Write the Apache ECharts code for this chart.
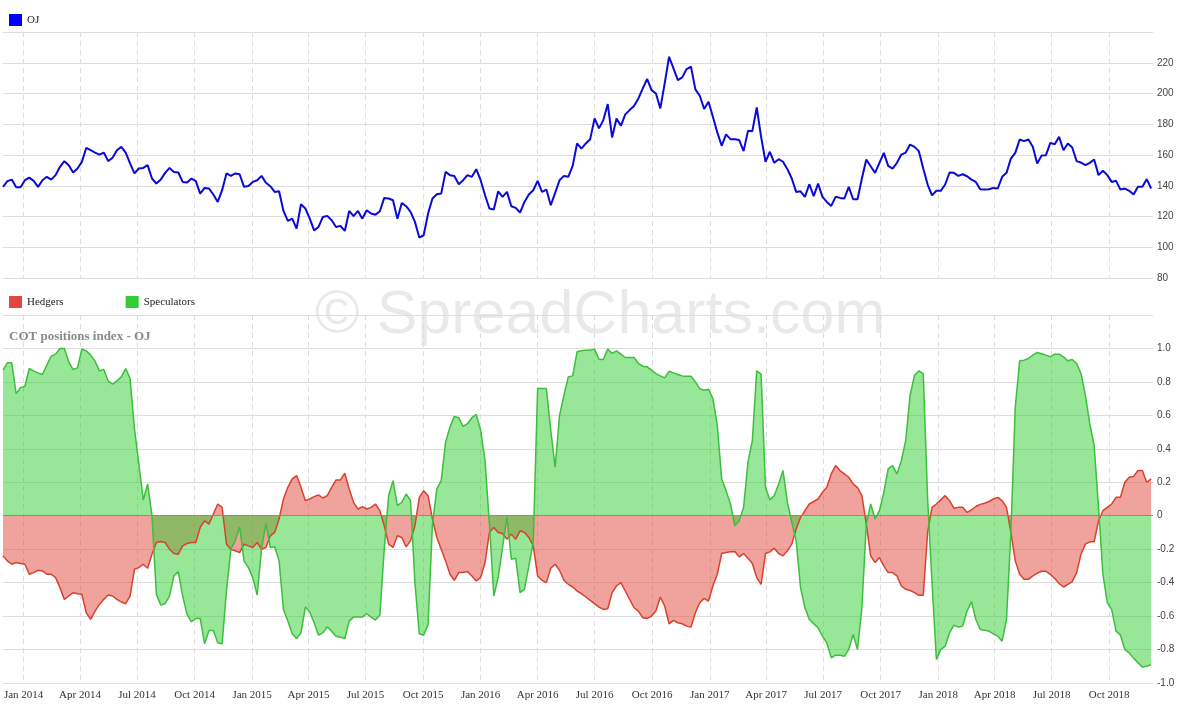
<!DOCTYPE html>
<html>
<head>
<meta charset="utf-8">
<title>OJ - COT positions index</title>
<script src="https://cdn.jsdelivr.net/npm/echarts@6/dist/echarts.min.js"></script>
<style>
  html, body { margin: 0; padding: 0; background: #fff; }
  #chart { width: 1200px; height: 717px; }
</style>
</head>
<body>
<div id="chart"></div>
<script>
// weekly observations, first one on 2013-11-29
var startDate = Date.UTC(2013, 10, 29);
var endDate = Date.UTC(2018, 11, 10);
var DAY = 86400000;

// OJ price
var oj = [
  139.3, 143, 144, 139, 139, 143.6, 145.3, 143.2, 139.3, 143.6,
  145.8, 144, 146.9, 152.3, 156, 153.4, 148.6, 151.2, 155.5, 164.7,
  163.1, 161.6, 160.3, 161.6, 156, 158.2, 163.1, 165.3, 161.6, 154.5,
  148, 151.2, 151.6, 153.4, 144.7, 141.4, 144, 148.4, 151.6, 149,
  148.6, 142.5, 142.1, 144.7, 143, 134.9, 138.6, 138.2, 134.3, 129.5,
  137.1, 148, 146.4, 148, 147.5, 139.3, 139.9, 142.5, 143.6, 146.4,
  141.9, 139.7, 136, 136.4, 123.6, 117.1, 118.6, 112.1, 128, 125.2,
  118.6, 111, 113.2, 119.7, 120.4, 117.6, 113.2, 113.9, 110.6, 123.6,
  120.2, 123.6, 118.6, 124.1, 121.9, 121.2, 123.4, 132.1, 131.7, 130.6,
  118.6, 128.8, 126.7, 123, 116.5, 106.3, 107.8, 121.9, 131.7, 134.5,
  134.9, 149, 146.9, 146.4, 141, 143.6, 146.9, 145.8, 150.8, 143.6,
  133.8, 125.2, 124.5, 136.4, 132.8, 136, 126.7, 125.6, 122.6, 129.5,
  134.3, 137.1, 143.2, 136, 137.5, 127.3, 135.4, 143.6, 146.4, 145.8,
  152.9, 167.5, 164.2, 167.5, 170.3, 183.8, 177.3, 182.7, 193.1, 171.4,
  183.8, 179, 186.4, 189.2, 191.8, 196.8, 203.3, 209.4, 202.2, 200,
  190.3, 206.6, 223.9, 216.3, 208.7, 210.5, 215.9, 217.4, 202.7, 198.5,
  189.9, 194.6, 184.9, 174.7, 166, 173.4, 170.3, 170.3, 169.7, 162.5,
  175.7, 175.5, 190.9, 171.8, 155.6, 162.1, 154.9, 157.3, 155.6, 150.8,
  144.7, 136, 136.4, 132.8, 141, 133.2, 141.4, 132.8, 129.5, 126.9,
  132.8, 132.1, 131.7, 139.3, 131.2, 131.2, 144.7, 157.1, 152.7, 148.4,
  154.9, 161.4, 152.9, 151.2, 154.9, 160.3, 161.6, 166.8, 165.3, 162.5,
  151.2, 140.8, 133.8, 136.7, 136.7, 140.8, 148.6, 148.4, 146.4, 147.5,
  146.2, 144, 142.5, 137.7, 137.5, 137.7, 138.6, 138.2, 145.8, 148.4,
  157.7, 161.4, 170.1, 169, 170.1, 165.3, 154.5, 159.6, 159.9, 167.9,
  167, 171.8, 163.1, 167.5, 164.9, 156, 155.1, 153.4, 154.9, 157.1,
  146.9, 149.7, 146.9, 142.5, 143.2, 137.5, 138.2, 136.7, 134.3, 139.3,
  139.3, 144.3, 138.2
];

// COT positions index
var hedgers = [
  -0.24, -0.27, -0.29, -0.28, -0.285, -0.29, -0.35, -0.34, -0.326, -0.33,
  -0.35, -0.35, -0.37, -0.43, -0.5, -0.48, -0.46, -0.466, -0.47, -0.58,
  -0.62, -0.57, -0.53, -0.5, -0.474, -0.48, -0.5, -0.516, -0.526, -0.48,
  -0.32, -0.31, -0.29, -0.314, -0.23, -0.16, -0.154, -0.16, -0.2, -0.226,
  -0.23, -0.18, -0.166, -0.16, -0.16, -0.07, -0.03, -0.05, 0.01, 0.07,
  0.05, -0.17, -0.2, -0.21, -0.22, -0.17, -0.18, -0.19, -0.16, -0.2,
  -0.19, -0.12, -0.1, -0.02, 0.1, 0.17, 0.22, 0.24, 0.17, 0.09,
  0.1, 0.114, 0.124, 0.106, 0.12, 0.17, 0.214, 0.214, 0.254, 0.16,
  0.08, 0.04, 0.054, 0.04, 0.05, 0.07, 0.03, -0.06, -0.17, -0.19,
  -0.12, -0.13, -0.186, -0.15, -0.06, 0.11, 0.15, 0.12, -0.02, -0.13,
  -0.2, -0.27, -0.35, -0.386, -0.34, -0.34, -0.334, -0.36, -0.39, -0.37,
  -0.28, -0.1, -0.07, -0.1, -0.106, -0.14, -0.11, -0.14, -0.09, -0.1,
  -0.13, -0.18, -0.36, -0.386, -0.4, -0.314, -0.29, -0.326, -0.386, -0.41,
  -0.426, -0.45, -0.466, -0.486, -0.506, -0.526, -0.546, -0.56, -0.556, -0.46,
  -0.42, -0.4, -0.45, -0.5, -0.55, -0.57, -0.61, -0.614, -0.6, -0.57,
  -0.486, -0.54, -0.646, -0.626, -0.64, -0.646, -0.66, -0.666, -0.58, -0.52,
  -0.494, -0.51, -0.42, -0.35, -0.226, -0.22, -0.216, -0.214, -0.246, -0.226,
  -0.254, -0.286, -0.37, -0.41, -0.226, -0.216, -0.194, -0.226, -0.24, -0.21,
  -0.17, -0.08, -0.01, 0.03, 0.07, 0.085, 0.1, 0.14, 0.17, 0.25,
  0.3, 0.27, 0.25, 0.23, 0.19, 0.168, 0.12, -0.05, -0.24, -0.28,
  -0.25, -0.3, -0.34, -0.34, -0.36, -0.42, -0.44, -0.447, -0.46, -0.476,
  -0.476, -0.1, 0.05, 0.07, 0.095, 0.12, 0.09, 0.045, 0.05, 0.05,
  0.02, 0.035, 0.055, 0.068, 0.075, 0.085, 0.1, 0.11, 0.09, 0.05,
  -0.1, -0.27, -0.35, -0.38, -0.38, -0.36, -0.345, -0.332, -0.332, -0.35,
  -0.375, -0.405, -0.426, -0.41, -0.395, -0.34, -0.23, -0.17, -0.156, -0.156,
  -0.03, 0.03, 0.05, 0.07, 0.11, 0.11, 0.2, 0.23, 0.235, 0.27,
  0.27, 0.2, 0.22
];

var speculators = [
  0.87, 0.914, 0.914, 0.73, 0.766, 0.774, 0.88, 0.866, 0.854, 0.844,
  0.9, 0.954, 0.966, 1.0, 1.0, 0.92, 0.874, 0.884, 0.996, 0.986,
  0.96, 0.924, 0.866, 0.874, 0.806, 0.786, 0.806, 0.83, 0.88, 0.82,
  0.52, 0.31, 0.094, 0.19, 0.0, -0.47, -0.534, -0.526, -0.48, -0.36,
  -0.334, -0.48, -0.59, -0.634, -0.614, -0.614, -0.766, -0.686, -0.686, -0.76,
  -0.766, -0.45, -0.2, -0.15, -0.066, -0.27, -0.31, -0.37, -0.474, -0.2,
  -0.046, -0.19, -0.186, -0.27, -0.56, -0.63, -0.706, -0.734, -0.7, -0.546,
  -0.575, -0.64, -0.714, -0.7, -0.664, -0.69, -0.72, -0.726, -0.734, -0.63,
  -0.606, -0.606, -0.606, -0.586, -0.606, -0.624, -0.594, -0.2, 0.12, 0.21,
  0.06, 0.08, 0.13, 0.09, -0.4, -0.706, -0.714, -0.65, -0.05, 0.16,
  0.21, 0.44, 0.53, 0.594, 0.586, 0.534, 0.55, 0.586, 0.606, 0.51,
  0.33, -0.05, -0.48, -0.37, -0.19, -0.006, -0.26, -0.254, -0.46, -0.44,
  -0.3, -0.16, 0.76, 0.76, 0.76, 0.51, 0.29, 0.6, 0.72, 0.83,
  0.836, 0.98, 0.986, 0.99, 0.99, 0.996, 0.936, 0.934, 0.996, 0.97,
  0.986, 0.966, 0.946, 0.946, 0.946, 0.91, 0.894, 0.89, 0.87, 0.85,
  0.836, 0.824, 0.864, 0.854, 0.844, 0.836, 0.834, 0.834, 0.8, 0.76,
  0.75, 0.756, 0.7, 0.54, 0.22, 0.15, 0.07, -0.06, -0.03, 0.05,
  0.32, 0.45, 0.866, 0.846, 0.17, 0.094, 0.12, 0.19, 0.27, 0.08,
  -0.04, -0.15, -0.43, -0.55, -0.62, -0.645, -0.67, -0.72, -0.76, -0.85,
  -0.834, -0.834, -0.84, -0.8, -0.71, -0.8, -0.55, -0.05, 0.07, -0.02,
  0.03, 0.14, 0.28, 0.3, 0.25, 0.33, 0.45, 0.72, 0.84, 0.866,
  0.85, 0.1, -0.4, -0.86, -0.8, -0.78, -0.7, -0.654, -0.665, -0.66,
  -0.57, -0.514, -0.62, -0.68, -0.684, -0.69, -0.706, -0.72, -0.75, -0.62,
  -0.1, 0.65, 0.926, 0.93, 0.94, 0.96, 0.976, 0.968, 0.96, 0.95,
  0.966, 0.966, 0.95, 0.926, 0.934, 0.91, 0.85, 0.72, 0.55, 0.42,
  0.05, -0.35, -0.52, -0.56, -0.69, -0.714, -0.8, -0.82, -0.85, -0.88,
  -0.904, -0.9, -0.89
];

var monthNames = ['Jan', 'Feb', 'Mar', 'Apr', 'May', 'Jun', 'Jul', 'Aug', 'Sep', 'Oct', 'Nov', 'Dec'];

var dates = [];
for (var i = 0; i < oj.length; i++) {
  dates.push(startDate + i * 7 * DAY);
}
function pairs(values) {
  return values.map(function (v, i) { return [dates[i], v]; });
}

var chart = echarts.init(document.getElementById('chart'));

var xCommon = {
  type: 'time',
  min: startDate,
  max: endDate,
  minInterval: 91 * DAY,
  maxInterval: 91 * DAY,
  axisLine: { show: false },
  axisTick: { show: false },
  splitLine: {
    show: true,
    showMinLine: false,
    showMaxLine: false,
    lineStyle: { color: '#dddddd', type: [5, 4], width: 1 }
  }
};

var option = {
  animation: false,
  backgroundColor: '#ffffff',
  graphic: [{
    type: 'text',
    z: -10,
    left: 'center',
    top: 286,
    silent: true,
    style: {
      text: '\u00a9 SpreadCharts.com',
      fontFamily: 'Liberation Sans, Arial, sans-serif',
      fontSize: 61,
      fill: 'rgba(0,0,0,0.085)'
    }
  }],
  title: {
    text: 'COT positions index - OJ',
    left: 4,
    top: 325,
    textStyle: {
      fontFamily: 'Liberation Serif, Times New Roman, serif',
      fontSize: 13,
      fontWeight: 'bold',
      color: '#8a8a8a'
    }
  },
  legend: [{
    left: 4,
    top: 9,
    icon: 'rect',
    itemWidth: 13,
    itemHeight: 12,
    itemGap: 4,
    itemTextGap: 4,
    textStyle: { fontFamily: 'Liberation Serif, serif', fontSize: 11, color: '#222' },
    data: [{ name: 'OJ', itemStyle: { color: '#0000ff' } }]
  }, {
    left: 4,
    top: 291,
    icon: 'rect',
    itemWidth: 13,
    itemHeight: 12,
    itemGap: 62,
    itemTextGap: 4,
    textStyle: { fontFamily: 'Liberation Serif, serif', fontSize: 11, color: '#222' },
    data: [
      { name: 'Hedgers', itemStyle: { color: '#e0483a' } },
      { name: 'Speculators', itemStyle: { color: '#33cc33' } }
    ]
  }],
  grid: [
    { left: 3, right: 47, top: 32, height: 246 },
    { left: 3, right: 47, top: 315, bottom: 34 }
  ],
  xAxis: [
    Object.assign({}, xCommon, { gridIndex: 0, axisLabel: { show: false } }),
    Object.assign({}, xCommon, {
      gridIndex: 1,
      axisLabel: {
        showMinLabel: false,
        showMaxLabel: false,
        margin: 7,
        fontFamily: 'Liberation Serif, Times New Roman, serif',
        fontSize: 11,
        color: '#333',
        formatter: function (val) {
          var d = new Date(val);
          if (d.getDate() !== 1 || d.getMonth() % 3 !== 0) return '';
          return monthNames[d.getMonth()] + ' ' + d.getFullYear();
        }
      }
    })
  ],
  yAxis: [{
    type: 'value',
    gridIndex: 0,
    position: 'right',
    min: 80,
    max: 240,
    interval: 20,
    axisLine: { show: false },
    axisTick: { show: false },
    splitLine: { lineStyle: { color: '#dddddd' } },
    axisLabel: {
      margin: 4,
      fontFamily: 'Liberation Sans, Arial, sans-serif',
      fontSize: 10,
      color: '#444',
      formatter: function (v) { return v === 240 ? '' : String(v); }
    }
  }, {
    type: 'value',
    gridIndex: 1,
    position: 'right',
    min: -1,
    max: 1.2,
    interval: 0.2,
    axisLine: { show: false },
    axisTick: { show: false },
    splitLine: { lineStyle: { color: '#dddddd' } },
    axisLabel: {
      margin: 4,
      fontFamily: 'Liberation Sans, Arial, sans-serif',
      fontSize: 10,
      color: '#444',
      formatter: function (v) {
        if (Math.abs(v - 1.2) < 1e-6) return '';
        if (Math.abs(v) < 1e-6) return '0';
        return v.toFixed(1);
      }
    }
  }],
  series: [{
    name: 'OJ',
    type: 'line',
    xAxisIndex: 0,
    yAxisIndex: 0,
    data: pairs(oj),
    showSymbol: false,
    itemStyle: { color: '#0000ff' },
    lineStyle: { color: '#0a0ad8', width: 2 }
  }, {
    name: 'Hedgers',
    type: 'line',
    xAxisIndex: 1,
    yAxisIndex: 1,
    data: pairs(hedgers),
    showSymbol: false,
    itemStyle: { color: '#e0483a' },
    lineStyle: { color: '#d8412f', width: 1.5 },
    areaStyle: { color: '#e0483a', opacity: 0.5, origin: 0 }
  }, {
    name: 'Speculators',
    type: 'line',
    xAxisIndex: 1,
    yAxisIndex: 1,
    data: pairs(speculators),
    showSymbol: false,
    itemStyle: { color: '#33cc33' },
    lineStyle: { color: '#3cbf3c', width: 1.5 },
    areaStyle: { color: '#32cd32', opacity: 0.5, origin: 0 },
    markLine: {
      silent: true,
      symbol: 'none',
      label: { show: false },
      lineStyle: { color: '#8c8c8c', type: 'solid', width: 1 },
      data: [{ yAxis: 0 }]
    }
  }]
};

chart.setOption(option);
</script>
</body>
</html>
